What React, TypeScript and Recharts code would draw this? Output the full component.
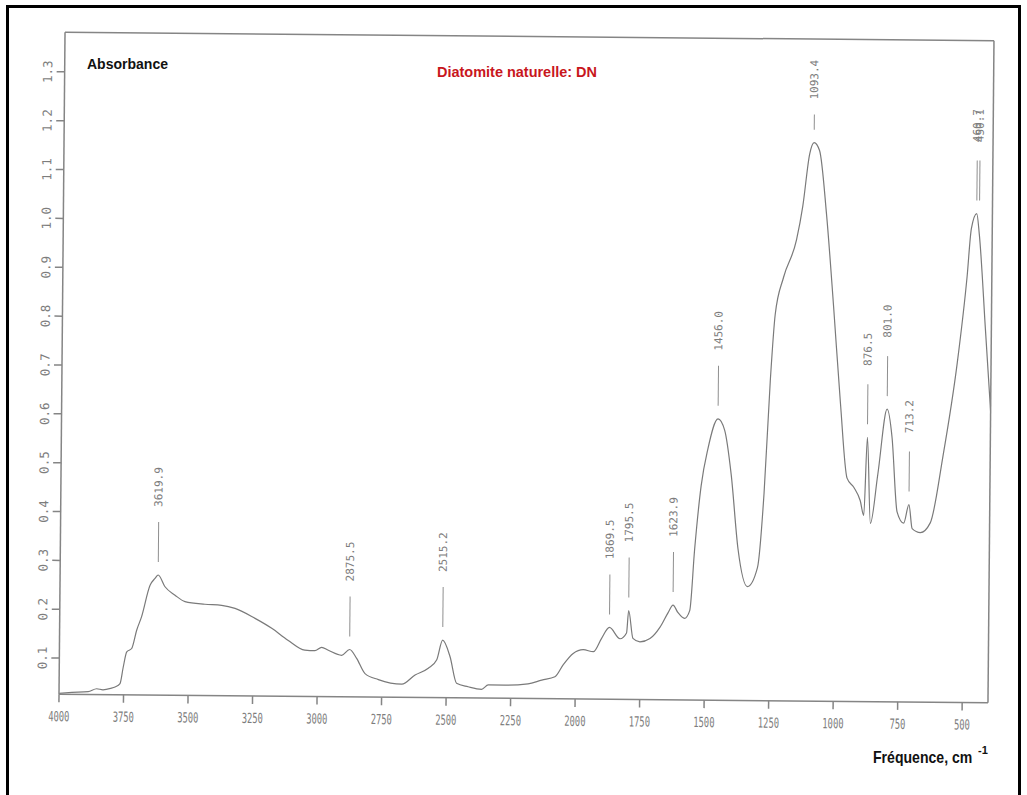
import { ComposedChart, Line, Scatter, XAxis, YAxis } from 'recharts';

// FTIR absorbance spectrum, natural diatomite (DN)
const WAVENUMBERS = [
  4000, 3950, 3887, 3854, 3830, 3800, 3783, 3764, 3752, 3739, 3720, 3701, 3683, 3651, 3632, 3619.9,
  3593, 3554, 3515, 3438, 3373, 3321, 3243, 3178, 3115, 3049, 3010, 2984, 2958, 2906, 2875.5, 2848,
  2815, 2763, 2672, 2621, 2570, 2538, 2515.2, 2486, 2460, 2415, 2363, 2337, 2272, 2183, 2130, 2079,
  2047, 2009, 1970, 1931, 1900, 1869.5, 1828, 1803, 1795.5, 1778, 1751, 1712, 1674, 1642, 1623.9,
  1605, 1579, 1559, 1542, 1519, 1494, 1456, 1430, 1403, 1374, 1336, 1298, 1275, 1255, 1238, 1207,
  1158, 1135, 1110, 1093.4, 1072, 1043, 1012, 982, 954, 927, 902, 888, 876.5, 862, 835, 801, 781,
  759, 733, 713.2, 700, 668, 630, 583, 531, 496, 481, 460.7, 450.1, 423, 400,
];

const ABSORBANCE = [
  0.028, 0.03, 0.032, 0.038, 0.036, 0.039, 0.042, 0.049, 0.083, 0.114, 0.121, 0.159, 0.186, 0.251, 0.265, 0.272,
  0.248, 0.231, 0.218, 0.213, 0.211, 0.205, 0.185, 0.165, 0.141, 0.121, 0.12, 0.127, 0.121, 0.111, 0.123, 0.105,
  0.074, 0.062, 0.053, 0.072, 0.086, 0.103, 0.144, 0.11, 0.056, 0.049, 0.044, 0.053, 0.053, 0.056, 0.064, 0.071,
  0.096, 0.119, 0.127, 0.123, 0.15, 0.173, 0.15, 0.162, 0.208, 0.151, 0.144, 0.151, 0.174, 0.205, 0.22,
  0.205, 0.193, 0.209, 0.335, 0.465, 0.541, 0.602, 0.579, 0.488, 0.336, 0.259, 0.298, 0.451, 0.679, 0.817, 0.893,
  0.97, 1.039, 1.146, 1.169, 1.153, 1.024, 0.833, 0.635, 0.483, 0.464, 0.437, 0.407, 0.567, 0.391, 0.491, 0.625, 0.567,
  0.415, 0.392, 0.43, 0.381, 0.373, 0.393, 0.53, 0.721, 0.897, 0.996, 1.027, 0.985, 0.79, 0.622,
];

const PEAKS = [3619.9, 2875.5, 2515.2, 1869.5, 1795.5, 1623.9, 1456.0, 1093.4, 876.5, 801.0, 713.2, 460.7, 450.1];

const X_TICKS = [4000, 3750, 3500, 3250, 3000, 2750, 2500, 2250, 2000, 1750, 1500, 1250, 1000, 750, 500];
const Y_TICKS = [0.1, 0.2, 0.3, 0.4, 0.5, 0.6, 0.7, 0.8, 0.9, 1.0, 1.1, 1.2, 1.3];

const X_DOMAIN: [number, number] = [400, 4000];
const Y_DOMAIN: [number, number] = [0.026, 1.381];

const spectrum = WAVENUMBERS.map((wn, i) => ({ wn, a: ABSORBANCE[i] }));

// each mark sits on the highest point of the curve close to its peak,
// so neighbouring peaks share one label height
const peakMarks = PEAKS.map((wn) => {
  const near = spectrum.filter((p) => Math.abs(p.wn - wn) <= 12);
  return { wn, a: Math.max(...near.map((p) => p.a)), label: wn.toFixed(1) };
});

const AXIS = '#858585';
const MONO = '"DejaVu Sans Mono", "Liberation Mono", monospace';
const SANS = '"Liberation Sans", Arial, sans-serif';

function XTick({ x, y, payload }: any) {
  const s = String(payload.value);
  return (
    <text
      x={x}
      y={y + 12}
      textAnchor="middle"
      dominantBaseline="central"
      fontFamily={MONO}
      fontSize={14}
      fill="#7d7d7d"
      textLength={s.length * 5.3}
      lengthAdjust="spacingAndGlyphs"
    >
      {s}
    </text>
  );
}

function YTick({ x, y, payload }: any) {
  const tx = x - 7;
  return (
    <text
      x={tx}
      y={y}
      transform={`rotate(-90 ${tx} ${y})`}
      textAnchor="middle"
      dominantBaseline="central"
      fontFamily={MONO}
      fontSize={12.5}
      fill="#7d7d7d"
    >
      {Number(payload.value).toFixed(1)}
    </text>
  );
}

function PeakMark({ cx, cy, payload }: any) {
  const textMid = Math.max(cy - 88, 77);
  const lineTop = Math.max(cy - 53, textMid + 35);
  const lineBottom = cy - 13;
  return (
    <g>
      <line x1={cx} x2={cx} y1={lineTop} y2={lineBottom} stroke="#8f8f8f" strokeWidth={1} />
      <text
        x={cx}
        y={textMid}
        transform={`rotate(-90 ${cx} ${textMid})`}
        textAnchor="middle"
        dominantBaseline="central"
        fontFamily={MONO}
        fontSize={11}
        fill="#7d7d7d"
      >
        {payload.label}
      </text>
    </g>
  );
}

export default function App() {
  return (
    <div
      style={{
        position: 'absolute',
        left: 0,
        top: 0,
        width: 1027,
        height: 795,
        background: '#fff',
        overflow: 'hidden',
      }}
    >
      <div
        style={{
          position: 'absolute',
          left: 0,
          top: 0,
          transform: 'rotate(0.52deg)',
          transformOrigin: '527px 367px',
        }}
      >
        <ComposedChart
          width={1027}
          height={795}
          data={spectrum}
          margin={{ top: 26.5, right: 26, bottom: 66.5, left: 22 }}
        >
          <XAxis
            dataKey="wn"
            type="number"
            domain={X_DOMAIN}
            reversed
            allowDataOverflow
            ticks={X_TICKS}
            interval={0}
            height={30}
            tickSize={8}
            stroke={AXIS}
            strokeWidth={1.5}
            tick={XTick}
          />
          <XAxis
            xAxisId="top"
            orientation="top"
            type="number"
            domain={X_DOMAIN}
            reversed
            allowDataOverflow
            ticks={X_TICKS}
            interval={0}
            height={10}
            tickSize={8}
            stroke={AXIS}
            strokeWidth={1.5}
            tick={false}
          />
          <YAxis
            type="number"
            domain={Y_DOMAIN}
            allowDataOverflow
            ticks={Y_TICKS}
            interval={0}
            width={40}
            tickSize={8}
            stroke={AXIS}
            strokeWidth={1.5}
            tick={YTick}
          />
          <YAxis
            yAxisId="right"
            orientation="right"
            type="number"
            domain={Y_DOMAIN}
            allowDataOverflow
            ticks={Y_TICKS}
            interval={0}
            width={10}
            tickSize={8}
            stroke={AXIS}
            strokeWidth={1.5}
            tick={false}
          />
          <Line
            dataKey="a"
            type="monotone"
            stroke="#7a7a7a"
            strokeWidth={1.2}
            dot={false}
            activeDot={false}
            isAnimationActive={false}
          />
          <Scatter data={peakMarks} dataKey="a" shape={PeakMark} isAnimationActive={false} />
        </ComposedChart>
      </div>

      <svg
        width={1027}
        height={795}
        style={{ position: 'absolute', left: 0, top: 0, pointerEvents: 'none' }}
      >
        <rect x={7.5} y={6.5} width={1012} height={800} fill="none" stroke="#000" strokeWidth={3} />
        <text
          x={87}
          y={69}
          fontFamily={SANS}
          fontWeight="bold"
          fontSize={15}
          fill="#111"
          textLength={81}
          lengthAdjust="spacingAndGlyphs"
        >
          Absorbance
        </text>
        <text
          x={437}
          y={77}
          fontFamily={SANS}
          fontWeight="bold"
          fontSize={14.5}
          fill="#c8161d"
          textLength={160}
          lengthAdjust="spacingAndGlyphs"
        >
          Diatomite naturelle: DN
        </text>
        {/* axis title drawn narrow, unit exponent set apart */}
        <text
          transform="translate(873 763) scale(0.88 1)"
          fontFamily={SANS}
          fontWeight="bold"
          fontSize={16}
          fill="#111"
        >
          Fréquence, cm
        </text>
        <text x={978} y={754} fontFamily={SANS} fontWeight="bold" fontSize={11} fill="#111">
          -1
        </text>
      </svg>
    </div>
  );
}
